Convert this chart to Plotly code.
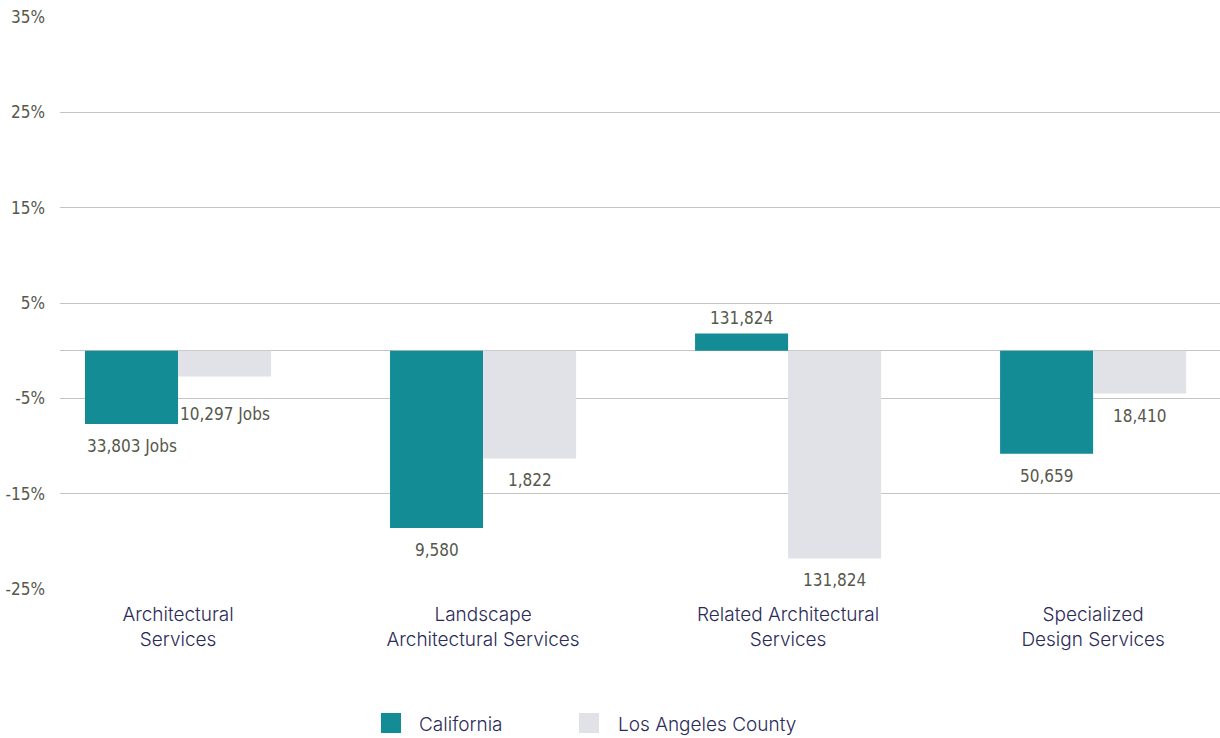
import plotly.graph_objects as go

categories = ["Architectural<br>Services", "Landscape<br>Architectural Services",
              "Related Architectural<br>Services", "Specialized<br>Design Services"]
california_pct = [-7.7, -18.6, 1.8, -10.8]
la_county_pct = [-2.7, -11.3, -21.8, -4.5]
california_jobs = ["33,803 Jobs", "9,580", "131,824", "50,659"]
la_county_jobs = ["10,297 Jobs", "1,822", "131,824", "18,410"]
y_ticks = [-25, -15, -5, 5, 15, 25, 35]
y_tick_text = ["-25%", "-15%", "-5%", "5%", "15%", "25%", "35%"]

TEAL = "#138c95"
GREY = "#e1e2e7"
NAVY = "#2b2b58"
LABEL = "#56584c"
GRID = "#c4c4c4"
NARROW = "DejaVu Sans Condensed, DejaVu Sans, sans-serif"
SANS = "Inter, Lato, sans-serif"


def condensed(s):
    return '<span style="font-stretch:condensed">' + s + "</span>"


x_idx = list(range(len(categories)))

fig = go.Figure()
fig.add_bar(x=x_idx, y=california_pct, name="California", marker_color=TEAL,
            marker_line_width=0, showlegend=False)
fig.add_bar(x=x_idx, y=la_county_pct, name="Los Angeles County", marker_color=GREY,
            marker_line_width=0, showlegend=False)

# job-count labels at the end of each bar
half = 0.1525
extra_drop = {(1, 0): 16}
for s, (vals, texts) in enumerate([(california_pct, california_jobs), (la_county_pct, la_county_jobs)]):
    off = -half if s == 0 else half
    for i, (v, t) in enumerate(zip(vals, texts)):
        neg = v < 0
        fig.add_annotation(
            x=i + off, y=v, xref="x", yref="y", text=condensed(t), showarrow=False,
            yanchor="top" if neg else "bottom",
            yshift=(-10 - extra_drop.get((s, i), 0)) if neg else 4,
            font=dict(family=NARROW, size=17, color=LABEL),
        )

# legend drawn as swatches + text
legend_items = [("California", TEAL, 381, 417), ("Los Angeles County", GREY, 579, 616)]
for name, color, sx, tx in legend_items:
    fig.add_shape(type="rect", xref="paper", yref="paper",
                  x0=(sx - 60) / 1160, x1=(sx + 20 - 60) / 1160,
                  y0=(589 - 733) / 572, y1=(589 - 713) / 572,
                  fillcolor=color, line_width=0)
    fig.add_annotation(xref="paper", yref="paper", x=(tx - 60) / 1160, y=(589 - 724) / 572,
                       xanchor="left", yanchor="middle", text=name, showarrow=False,
                       font=dict(family=SANS, size=19, color=NAVY, weight=300))

fig.update_layout(
    width=1220, height=738,
    margin=dict(l=60, r=0, t=17, b=149),
    paper_bgcolor="white", plot_bgcolor="white",
    barmode="group", bargap=0.39, bargroupgap=0,
    showlegend=False,
    xaxis=dict(tickvals=x_idx, ticktext=categories, range=[-0.387, 3.416],
               showgrid=False, zeroline=False, showline=False, ticks="",
               tickfont=dict(family=SANS, size=19, color=NAVY, weight=300),
               ticklabelstandoff=12),
    yaxis=dict(range=[-25, 35], tickvals=y_ticks,
               ticktext=[condensed(t) for t in y_tick_text],
               showgrid=True, gridcolor=GRID, gridwidth=1,
               zeroline=True, zerolinecolor=GRID, zerolinewidth=1,
               showline=False, ticks="",
               tickfont=dict(family=NARROW, size=17, color=LABEL), ticklabelstandoff=14),
)

fig.write_html("out.html")
